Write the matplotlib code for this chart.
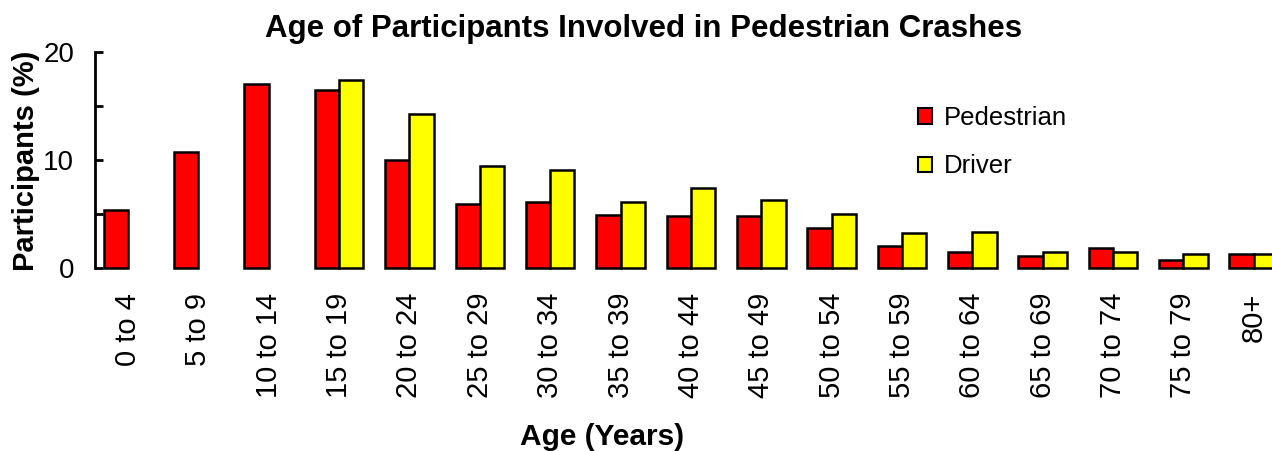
import matplotlib
matplotlib.use("Agg")
import matplotlib.pyplot as plt
import numpy as np
from matplotlib.ticker import MultipleLocator, FuncFormatter

plt.rcParams['font.family'] = ['Liberation Sans', 'DejaVu Sans']

# data (percent of participants)
age_groups = ['0 to 4', '5 to 9', '10 to 14', '15 to 19', '20 to 24', '25 to 29',
              '30 to 34', '35 to 39', '40 to 44', '45 to 49', '50 to 54', '55 to 59',
              '60 to 64', '65 to 69', '70 to 74', '75 to 79', '80+']
pedestrian = [5.4, 10.7, 17.0, 16.5, 10.0, 5.9, 6.1, 4.9, 4.85, 4.85, 3.72, 2.06,
              1.5, 1.1, 1.83, 0.72, 1.3]
driver = [np.nan, np.nan, np.nan, 17.4, 14.3, 9.4, 9.1, 6.15, 7.41, 6.3, 5.04, 3.2,
          3.35, 1.45, 1.45, 1.3, 1.3]

W, H = 1272, 451
fig = plt.figure(figsize=(W / 100, H / 100), dpi=100)
ax = fig.add_axes([95 / W, (H - 268) / H, (W - 95) / W, 216 / H])

x = np.arange(len(age_groups))
bw = 0.345
drv = np.array(driver)
has_drv = ~np.isnan(drv)

ax.bar(x, pedestrian, width=-bw, align='edge', color='#FF0000', edgecolor='black',
       linewidth=1.8, label='Pedestrian', clip_on=False)
ax.bar(x[has_drv], drv[has_drv], width=bw, align='edge', color='#FFFF00',
       edgecolor='black', linewidth=1.8, label='Driver', clip_on=False)

ax.set_xlim(-0.47, 16.26)
ax.set_ylim(0, 20)

for s in ['top', 'right', 'bottom']:
    ax.spines[s].set_visible(False)
ax.spines['left'].set_linewidth(2)

ax.yaxis.set_major_locator(MultipleLocator(5))
ax.yaxis.set_major_formatter(FuncFormatter(lambda v, p: '%d' % v if v % 10 == 0 else ''))
ax.tick_params(axis='y', direction='in', length=6, width=2, labelsize=20, pad=15)

ax.set_xticks(x)
ax.set_xticklabels(age_groups, rotation=90, va='top', ha='center')
ax.tick_params(axis='x', length=0, labelsize=21, pad=18)

leg = ax.legend(loc='upper left', bbox_to_anchor=(918 / W, (H - 106) / H),
                bbox_transform=fig.transFigure, frameon=False, fontsize=18.5,
                handlelength=0.55, handleheight=0.55, handletextpad=0.45,
                labelspacing=0.95, borderpad=0, borderaxespad=0)
for h in leg.legend_handles:
    h.set_linewidth(1.5)

fig.text(644 / W, (H - 37) / H, 'Age of Participants Involved in Pedestrian Crashes',
         ha='center', va='baseline', fontsize=22.5, fontweight='bold')
fig.text(26 / W, (H - 161) / H, 'Participants (%)', rotation=90, ha='center',
         va='center', fontsize=21, fontweight='bold')
fig.text(602 / W, (H - 437) / H, 'Age (Years)', ha='center', va='center',
         fontsize=21.5, fontweight='bold')

fig.savefig('out.png', dpi=100)
